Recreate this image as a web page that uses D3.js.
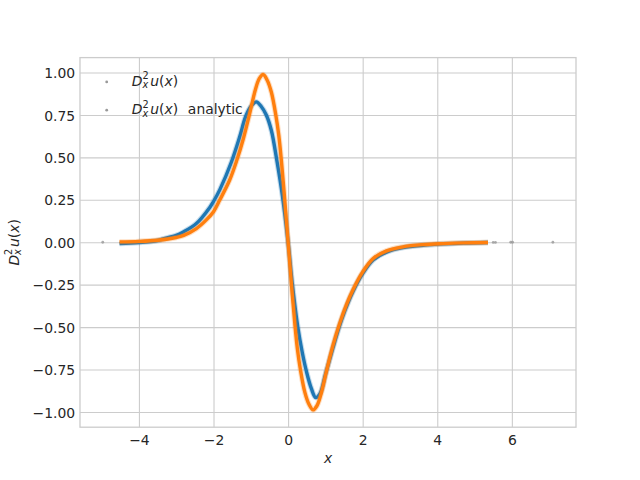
<!DOCTYPE html>
<html lang="en">
<head>
    <meta charset="UTF-8">
    <title>Second derivative, numerical vs analytic</title>
    <script src="https://d3js.org/d3.v7.min.js"></script>
</head>

<style>
    body {
        margin: 0;
        padding: 0;
        background: #fff;
    }

    svg {
        display: block;
    }

    text {
        font-family: "DejaVu Sans", sans-serif;
        fill: #262626;
    }
</style>

<body>
<div class="chart-container"></div>

<script>
  /** DATA **/
  // numerical second derivative (blue)
  var numX = [-4.52, -4.0, -3.5, -3.35, -3.0, -2.81, -2.46, -2.1, -2.0, -1.83, -1.525, -1.3,
    -1.14, -1.0, -0.854, -0.72, -0.585, -0.45, -0.3, -0.15, 0.0, 0.11, 0.26, 0.38, 0.49, 0.62,
    0.74, 0.86, 1.0, 1.2, 1.37, 1.52, 1.74, 2.0, 2.28, 2.64, 3.08, 3.62, 4.16, 4.7, 5.36];
  var numY = [-0.008, -0.002, 0.01, 0.02, 0.04, 0.06, 0.11, 0.205, 0.24, 0.31, 0.47, 0.62,
    0.74, 0.80, 0.827, 0.80, 0.75, 0.66, 0.48, 0.27, 0.0, -0.24, -0.5, -0.65, -0.76, -0.86,
    -0.915, -0.89, -0.78, -0.625, -0.5, -0.405, -0.29, -0.185, -0.105, -0.058, -0.032, -0.018,
    -0.01, -0.005, -0.002];

  // analytic second derivative (orange)
  var anaX = [-4.52, -4.0, -3.5, -3.0, -2.8, -2.46, -2.2, -2.0, -1.83, -1.57, -1.38, -1.2, -1.05,
    -0.87, -0.77, -0.67, -0.56, -0.45, -0.33, -0.25, -0.18, -0.09, 0.0, 0.09, 0.18, 0.25, 0.33,
    0.45, 0.56, 0.67, 0.77, 0.87, 1.05, 1.2, 1.38, 1.57, 1.74, 2.0, 2.28, 2.64, 3.08, 3.62,
    4.16, 4.7, 5.36];
  var anaY = [0.002, 0.005, 0.012, 0.028, 0.04, 0.08, 0.13, 0.18, 0.25, 0.365, 0.48, 0.61, 0.74,
    0.905, 0.965, 0.988, 0.955, 0.885, 0.75, 0.63, 0.48, 0.25, 0.0, -0.25, -0.48, -0.63, -0.75,
    -0.885, -0.955, -0.988, -0.965, -0.905, -0.74, -0.61, -0.48, -0.365, -0.28, -0.175, -0.096,
    -0.051, -0.027, -0.014, -0.008, -0.004, -0.002];

  // isolated points at the ends of the sample range
  var strayX = [-4.97, 5.5, 5.56, 5.97, 6.02, 7.1];
  var strayY = [0.0, -0.001, -0.001, 0.0, 0.0, 0.0];

  var xTicks = [-4, -2, 0, 2, 4, 6];
  var yTicks = [-1.0, -0.75, -0.5, -0.25, 0.0, 0.25, 0.5, 0.75, 1.0];

  /** LAYOUT (matplotlib default figure 640x480) */
  var figW = 640, figH = 480;
  var plotLeft = 80, plotRight = 576, plotTop = 57.6, plotBottom = 427.2;
  var fontSize = 13.9;
  var gridColor = '#cccccc';

  var svg = d3.select('.chart-container')
    .append('svg')
    .attr('width', figW)
    .attr('height', figH);

  var x = d3.scaleLinear().domain([-5.58, 7.72]).range([plotLeft, plotRight]);
  var y = d3.scaleLinear().domain([-1.09, 1.088]).range([plotBottom, plotTop]);

  /** grid + tick labels */
  var xAxis = svg.append('g')
    .attr('transform', 'translate(0,' + plotBottom + ')')
    .call(d3.axisBottom(x).tickValues(xTicks).tickSize(-(plotBottom - plotTop)).tickPadding(4.9)
      .tickFormat(d3.format('d')));
  var yAxis = svg.append('g')
    .attr('transform', 'translate(' + plotLeft + ',0)')
    .call(d3.axisLeft(y).tickValues(yTicks).tickSize(-(plotRight - plotLeft)).tickPadding(4.9)
      .tickFormat(d3.format('.2f')));

  [xAxis, yAxis].forEach(function (g) {
    g.select('.domain').remove();
    g.attr('font-family', null).attr('font-size', null);
    g.selectAll('line').attr('stroke', gridColor).attr('stroke-width', 1.1);
    g.selectAll('text').style('font-size', fontSize + 'px').attr('fill', '#262626');
  });
  xAxis.selectAll('text').attr('dy', '0.93em');
  yAxis.selectAll('text').attr('dy', '0.37em');

  /** frame */
  svg.append('rect')
    .attr('x', plotLeft).attr('y', plotTop)
    .attr('width', plotRight - plotLeft).attr('height', plotBottom - plotTop)
    .attr('fill', 'none')
    .attr('stroke', gridColor)
    .attr('stroke-width', 1.3);

  /** curves */
  var series = [
    {xs: numX, ys: numY, color: '#1f77b4'},
    {xs: anaX, ys: anaY, color: '#ff7f0e'}
  ];
  var line = d3.line()
    .x(function (d) { return x(d[0]); })
    .y(function (d) { return y(d[1]); })
    .curve(d3.curveCatmullRom.alpha(0.5));

  series.forEach(function (s) {
    var pts = s.xs.map(function (v, i) { return [v, s.ys[i]]; });
    svg.append('path')
      .attr('d', line(pts))
      .attr('fill', 'none')
      .attr('stroke', s.color)
      .attr('stroke-opacity', 0.25)
      .attr('stroke-width', 5.5)
      .attr('stroke-linejoin', 'round');
    svg.append('path')
      .attr('d', line(pts))
      .attr('fill', 'none')
      .attr('stroke', s.color)
      .attr('stroke-width', 3.4)
      .attr('stroke-linejoin', 'round');
  });

  svg.append('g')
    .selectAll('circle')
    .data(strayX)
    .enter().append('circle')
    .attr('cx', function (d) { return x(d); })
    .attr('cy', function (d, i) { return y(strayY[i]); })
    .attr('r', 1.4)
    .attr('fill', '#999999')
    .attr('fill-opacity', 0.8);

  /** mathtext-like label: D^2_x u(x) [suffix] */
  function drawMath(parent, size, suffix) {
    var cur = 0;
    function piece(str, opts) {
      var t = parent.append('text')
        .attr('x', cur)
        .attr('y', opts.dy || 0)
        .style('font-size', (size * (opts.scale || 1)) + 'px')
        .style('font-style', opts.italic ? 'italic' : 'normal')
        .text(str);
      return t.node().getComputedTextLength();
    }
    cur += piece('D', {italic: true});
    var wSup = piece('2', {scale: 0.7, dy: -0.45 * size});
    var wSub = piece('x', {scale: 0.7, dy: 0.2 * size, italic: true});
    cur += Math.max(wSup, wSub) + 0.12 * size;
    cur += piece('u', {italic: true});
    cur += piece('(', {});
    cur += piece('x', {italic: true});
    cur += piece(')', {});
    if (suffix) {
      cur += 0.7 * size;
      cur += piece(suffix, {});
    }
    return cur;
  }

  /** legend (no frame) */
  var legendRows = [null, 'analytic'];
  legendRows.forEach(function (suffix, i) {
    var rowY = 85.7 + i * 28.3;
    svg.append('circle')
      .attr('cx', 106.7)
      .attr('cy', rowY - 3.8)
      .attr('r', 1.4)
      .attr('fill', '#999999');
    var g = svg.append('g').attr('transform', 'translate(131.7,' + rowY + ')');
    drawMath(g, fontSize, suffix);
  });

  /** axis labels */
  svg.append('text')
    .attr('x', (plotLeft + plotRight) / 2)
    .attr('y', 463)
    .style('text-anchor', 'middle')
    .style('font-size', fontSize + 'px')
    .style('font-style', 'italic')
    .text('x');

  var yLab = svg.append('g');
  var inner = yLab.append('g');
  var w = drawMath(inner, fontSize, null);
  inner.attr('transform', 'translate(' + (-w / 2) + ',0)');
  yLab.attr('transform', 'translate(18.5,' + ((plotTop + plotBottom) / 2) + ') rotate(-90)');
</script>
</body>
</html>
